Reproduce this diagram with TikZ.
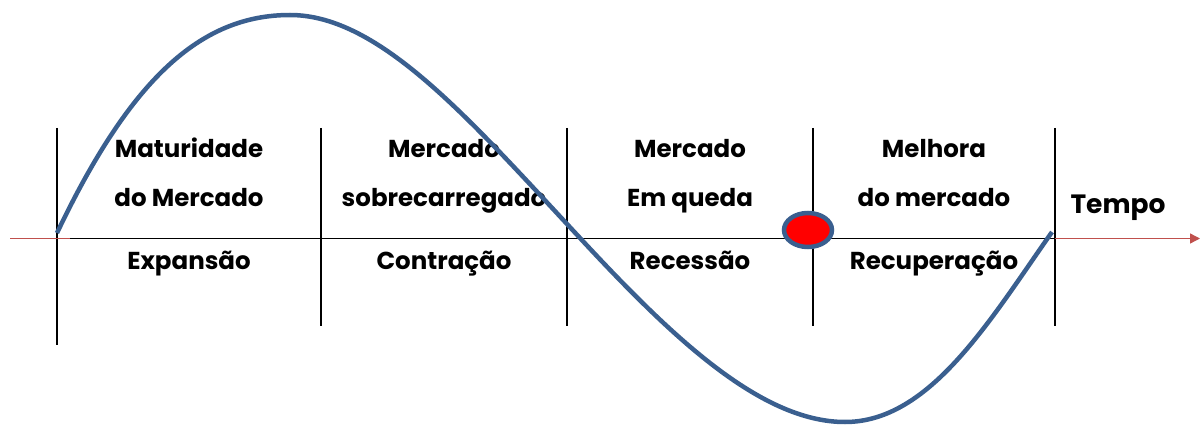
\documentclass[tikz,border=0pt]{standalone}
\usepackage{fontspec}
\setmainfont{Poppins}
\usetikzlibrary{arrows.meta,shapes.geometric}
\definecolor{curveblue}{HTML}{3A5F8F}
\definecolor{axisred}{HTML}{C0504D}
\tikzset{
  sep/.style={draw=black, line width=1.3pt},
  lbl/.style={font=\fontsize{24.5}{28}\selectfont\bfseries, inner sep=0pt, anchor=base},
  curve/.style={draw=curveblue, line width=4.5pt}
}
\begin{document}
\begin{tikzpicture}[x=1pt,y=-1pt]
\useasboundingbox (0,0) rectangle (1200,425);
% separators
\coordinate (s1t) at (57,128); \coordinate (s1b) at (57,345);
\coordinate (s2t) at (321,128); \coordinate (s2b) at (321,326);
\coordinate (s3t) at (567,128); \coordinate (s3b) at (567,326);
\coordinate (s4t) at (813,128); \coordinate (s4b) at (813,326);
\coordinate (s5t) at (1055,128); \coordinate (s5b) at (1055,326);
\draw[sep] (s1t) -- (s1b);
\draw[sep] (s2t) -- (s2b);
\draw[sep] (s3t) -- (s3b);
\draw[sep] (s4t) -- (s4b);
\draw[sep] (s5t) -- (s5b);
% axis
\coordinate (a0) at (57,238.5); \coordinate (a1) at (1055,238.5);
\draw[black, line width=1.5pt] (a0) -- (a1);
\coordinate (r0) at (10,238.5); \coordinate (r1) at (70,238.5);
\draw[axisred, line width=1.3pt] (r0) -- (r1);
\coordinate (r2) at (1055,238.5); \coordinate (r3) at (1200,238.5);
\draw[axisred, line width=1.3pt, -{Triangle[length=10pt,width=10pt]}] (r2) -- (r3);
% labels
\node[lbl] (t11) at (189,158) {Maturidade};
\node[lbl] (t12) at (189,206) {do Mercado};
\node[lbl] (t13) at (189,269) {Expansão};
\node[lbl] (t21) at (444,158) {Mercado};
\node[lbl] (t22) at (444,206) {sobrecarregado};
\node[lbl] (t23) at (444,269) {Contração};
\node[lbl] (t31) at (690,158) {Mercado};
\node[lbl] (t32) at (690,206) {Em queda};
\node[lbl] (t33) at (690,269) {Recessão};
\node[lbl] (t41) at (934,158) {Melhora};
\node[lbl] (t42) at (934,206) {do mercado};
\node[lbl] (t43) at (934,269) {Recuperação};
\node[lbl, font=\fontsize{26.5}{30}\selectfont\bfseries] (tempo) at (1118,213) {Tempo};
% curve
\coordinate (c0) at (57,233);
\coordinate (c1) at (290,15);
\coordinate (c2) at (580,238);
\coordinate (c3) at (845,422);
\coordinate (c4) at (1052,232);
\draw[curve] (c0) .. controls (130,80) and (200,15) .. (c1)
  .. controls (380,15) and (470,120) .. (c2)
  .. controls (670,335) and (760,422) .. (c3)
  .. controls (930,422) and (990,320) .. (c4);
% red dot
\node[draw=curveblue, fill=red, line width=4.5pt, ellipse, minimum width=48pt, minimum height=34pt, inner sep=0pt] (dot) at (808,230) {};
\end{tikzpicture}
\end{document}
